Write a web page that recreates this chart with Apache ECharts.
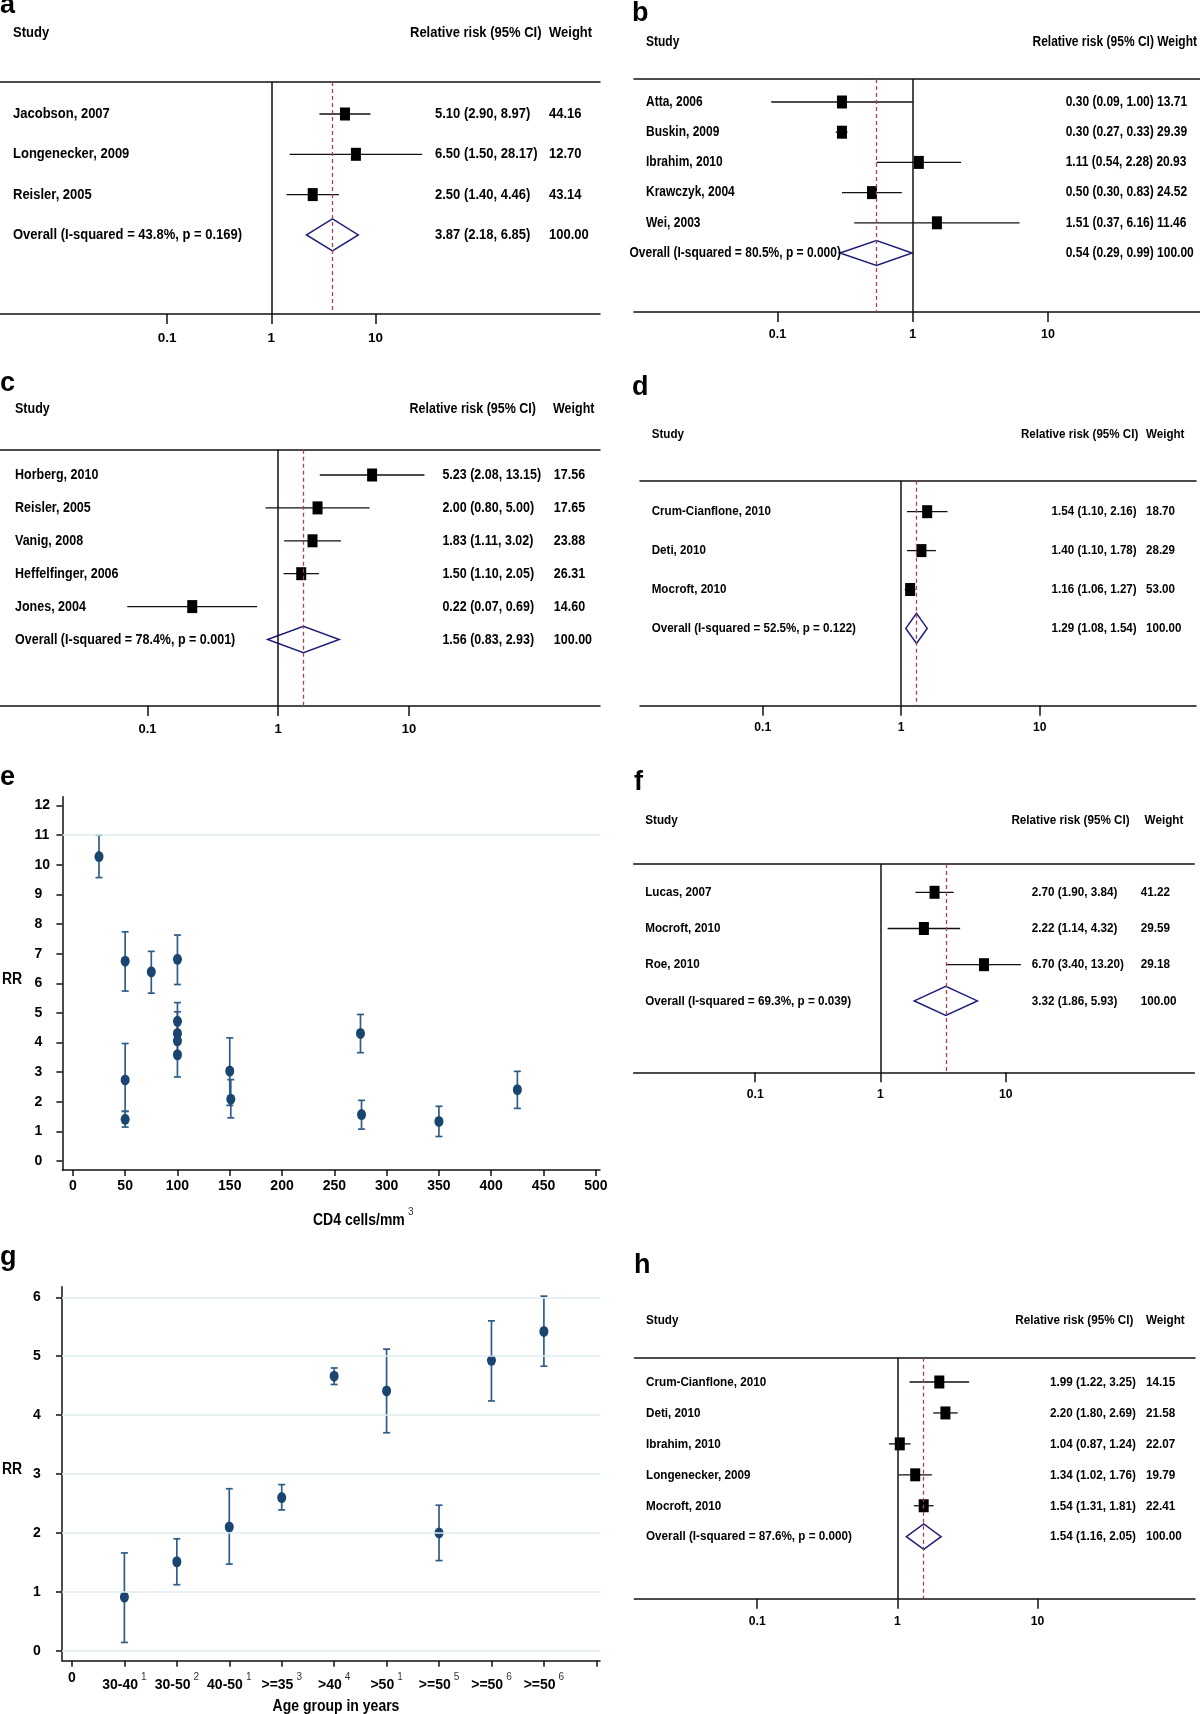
<!DOCTYPE html>
<html>
<head>
<meta charset="utf-8">
<title>Relative risk meta-analysis panels</title>
<script src="https://cdn.jsdelivr.net/npm/echarts@6.0.0/dist/echarts.min.js"></script>
<style>
  html, body { margin: 0; padding: 0; background: #fff; }
  #chart { width: 1200px; height: 1714px; }
</style>
</head>
<body>
<div id="chart"></div>
<script>
// a
const aStudy = ['Jacobson, 2007', 'Longenecker, 2009', 'Reisler, 2005', 'Overall (I-squared = 43.8%, p = 0.169)'];
const aRR = [5.10, 6.50, 2.50, 3.87];
const aLow = [2.90, 1.50, 1.40, 2.18];
const aHigh = [8.97, 28.17, 4.46, 6.85];
const aWeight = [44.16, 12.70, 43.14, 100.00];

// b
const bStudy = ['Atta, 2006', 'Buskin, 2009', 'Ibrahim, 2010', 'Krawczyk, 2004', 'Wei, 2003', 'Overall (I-squared = 80.5%, p = 0.000)'];
const bRR = [0.30, 0.30, 1.11, 0.50, 1.51, 0.54];
const bLow = [0.09, 0.27, 0.54, 0.30, 0.37, 0.29];
const bHigh = [1.00, 0.33, 2.28, 0.83, 6.16, 0.99];
const bWeight = [13.71, 29.39, 20.93, 24.52, 11.46, 100.00];

// c
const cStudy = ['Horberg, 2010', 'Reisler, 2005', 'Vanig, 2008', 'Heffelfinger, 2006', 'Jones, 2004', 'Overall (I-squared = 78.4%, p = 0.001)'];
const cRR = [5.23, 2.00, 1.83, 1.50, 0.22, 1.56];
const cLow = [2.08, 0.80, 1.11, 1.10, 0.07, 0.83];
const cHigh = [13.15, 5.00, 3.02, 2.05, 0.69, 2.93];
const cWeight = [17.56, 17.65, 23.88, 26.31, 14.60, 100.00];

// d
const dStudy = ['Crum-Cianflone, 2010', 'Deti, 2010', 'Mocroft, 2010', 'Overall (I-squared = 52.5%, p = 0.122)'];
const dRR = [1.54, 1.40, 1.16, 1.29];
const dLow = [1.10, 1.10, 1.06, 1.08];
const dHigh = [2.16, 1.78, 1.27, 1.54];
const dWeight = [18.70, 28.29, 53.00, 100.00];

// e
const eCD4 = [25, 50, 75, 100, 100, 100, 100, 100, 50, 50, 150, 151, 275, 276, 350, 425];
const eRR = [10.28, 6.75, 6.39, 6.81, 4.72, 4.31, 4.06, 3.59, 2.74, 1.41, 3.04, 2.09, 4.31, 1.57, 1.34, 2.41];
const eLow = [9.57, 5.74, 5.67, 5.96, 4.31, 4.06, 3.59, 2.84, 1.68, 1.15, 1.88, 1.46, 3.66, 1.08, 0.83, 1.78];
const eHigh = [11.00, 7.74, 7.08, 7.63, 5.35, 5.04, 4.72, 4.31, 3.97, 1.68, 4.16, 2.75, 4.95, 2.05, 1.85, 3.03];
const eXTicks = [0, 50, 100, 150, 200, 250, 300, 350, 400, 450, 500];
const eYTicks = [0, 1, 2, 3, 4, 5, 6, 7, 8, 9, 10, 11, 12];

// f
const fStudy = ['Lucas, 2007', 'Mocroft, 2010', 'Roe, 2010', 'Overall (I-squared = 69.3%, p = 0.039)'];
const fRR = [2.70, 2.22, 6.70, 3.32];
const fLow = [1.90, 1.14, 3.40, 1.86];
const fHigh = [3.84, 4.32, 13.20, 5.93];
const fWeight = [41.22, 29.59, 29.18, 100.00];

// g
const gGroup = ['30-40', '30-50', '40-50', '>=35', '>40', '>50', '>=50', '>=50', '>=50'];
const gRef = ['1', '2', '1', '3', '4', '1', '5', '6', '6'];
const gRR = [0.91, 1.51, 2.10, 2.60, 4.66, 4.41, 2.00, 4.93, 5.42];
const gLow = [0.14, 1.12, 1.47, 2.39, 4.52, 3.70, 1.53, 4.24, 4.83];
const gHigh = [1.66, 1.90, 2.75, 2.82, 4.80, 5.12, 2.47, 5.60, 6.02];
const gYTicks = [0, 1, 2, 3, 4, 5, 6];

// h
const hStudy = ['Crum-Cianflone, 2010', 'Deti, 2010', 'Ibrahim, 2010', 'Longenecker, 2009', 'Mocroft, 2010', 'Overall (I-squared = 87.6%, p = 0.000)'];
const hRR = [1.99, 2.20, 1.04, 1.34, 1.54, 1.54];
const hLow = [1.22, 1.80, 0.87, 1.02, 1.31, 1.16];
const hHigh = [3.25, 2.69, 1.24, 1.76, 1.81, 2.05];
const hWeight = [14.15, 21.58, 22.07, 19.79, 22.41, 100.00];

const forestTicks = [0.1, 1, 10];

const FONT = '"Liberation Sans", Arial, Helvetica, sans-serif';
const DOT = '#1b4571';
const BAR = '#2f5d89';
const GRIDLINE = '#dfecf0';
const STRETCH = 1.17; // the source figure is a little taller than wide

// pixel layout of the forest panels
const forestLayout = {
  a: { left: 0, right: 600, top: 82, bottom: 314, nullX: 271.3, decade: 104.1, row0: 114, rowStep: 40.3, font: 13, studyX: 13, overallX: 13, valX: 435, wX: 549, headY: 33, headRRX: 410, headWX: 549, dia: 16, labelY: 339 },
  b: { left: 634, right: 1200, top: 79, bottom: 312, nullX: 912.7, decade: 135.3, row0: 102, rowStep: 30.2, font: 12, studyX: 646, overallX: 629.5, valX: 1065.7, wX: null, headY: 42, headRRX: 1032.5, headWX: null, dia: 12.5, labelY: 335 },
  c: { left: 0, right: 600, top: 449.7, bottom: 706, nullX: 278.2, decade: 130.7, row0: 475, rowStep: 32.9, font: 12.5, studyX: 15, overallX: 15, valX: 442.4, wX: 553.8, headY: 409, headRRX: 409.5, headWX: 553, dia: 13.3, labelY: 730 },
  d: { left: 640, right: 1196, top: 480.7, bottom: 705.7, nullX: 901.2, decade: 138.5, row0: 511.7, rowStep: 38.9, font: 11.6, studyX: 651.7, overallX: 651.7, valX: 1051.6, wX: 1146, headY: 434, headRRX: 1021, headWX: 1146, dia: 15, labelY: 729 },
  f: { left: 633.7, right: 1194.3, top: 864, bottom: 1072.3, nullX: 880.5, decade: 125.3, row0: 892.3, rowStep: 36.2, font: 11.7, studyX: 645.2, overallX: 645.2, valX: 1031.7, wX: 1140.8, headY: 820, headRRX: 1011.4, headWX: 1144.6, dia: 14.5, labelY: 1096 },
  h: { left: 634.4, right: 1195, top: 1357.7, bottom: 1598.7, nullX: 897.4, decade: 140.2, row0: 1382, rowStep: 30.94, font: 11.7, studyX: 646, overallX: 646, valX: 1050, wX: 1146, headY: 1320, headRRX: 1015.2, headWX: 1146, dia: 12.7, labelY: 1622.3 }
};

const forests = [
  { key: 'a', study: aStudy, rr: aRR, lo: aLow, hi: aHigh, wt: aWeight },
  { key: 'b', study: bStudy, rr: bRR, lo: bLow, hi: bHigh, wt: bWeight },
  { key: 'c', study: cStudy, rr: cRR, lo: cLow, hi: cHigh, wt: cWeight },
  { key: 'd', study: dStudy, rr: dRR, lo: dLow, hi: dHigh, wt: dWeight },
  { key: 'f', study: fStudy, rr: fRR, lo: fLow, hi: fHigh, wt: fWeight },
  { key: 'h', study: hStudy, rr: hRR, lo: hLow, hi: hHigh, wt: hWeight }
];

function txt(text, x, y, size, opts) {
  const o = opts || {};
  return {
    type: 'text', x: x, y: y, silent: true, scaleY: o.scaleY || STRETCH,
    style: {
      text: text, fill: o.color || '#000',
      fontSize: size, fontWeight: o.weight || 'bold', fontFamily: FONT,
      align: o.align || 'left', textAlign: o.align || 'left',
      verticalAlign: 'middle', textVerticalAlign: 'middle'
    }
  };
}

const grids = [], xAxes = [], yAxes = [], series = [], graphics = [];

forests.forEach(function (p, k) {
  const L = forestLayout[p.key];
  grids.push({ left: L.left, top: L.top, width: L.right - L.left, height: L.bottom - L.top, outerBoundsMode: 'none' });
  const xmin = Math.pow(10, (L.left - L.nullX) / L.decade);
  const xmax = Math.pow(10, (L.right - L.nullX) / L.decade);
  const line = { onZero: false, lineStyle: { color: '#111', width: 1.5 } };
  xAxes.push({
    type: 'log', logBase: 10, gridIndex: k, position: 'bottom', min: xmin, max: xmax,
    axisLine: line, splitLine: { show: false },
    axisTick: { customValues: forestTicks, length: 10, inside: false, lineStyle: { color: '#111', width: 1.5 } },
    axisLabel: {
      customValues: forestTicks, margin: L.labelY - L.bottom - L.font * 0.6,
      color: '#000', fontSize: L.font + 0.5, fontWeight: 'bold', fontFamily: FONT,
      formatter: function (v) { return String(+Number(v).toPrecision(3)); }
    }
  });
  xAxes.push({
    type: 'log', logBase: 10, gridIndex: k, position: 'top', min: xmin, max: xmax,
    axisLine: line, axisTick: { show: false }, axisLabel: { show: false }, splitLine: { show: false }
  });
  const ymin = -(L.row0 - L.top) / L.rowStep;
  yAxes.push({ type: 'value', gridIndex: k, inverse: true, min: ymin, max: ymin + (L.bottom - L.top) / L.rowStep, show: false });

  const n = p.rr.length;
  series.push({
    type: 'scatter', xAxisIndex: 2 * k, yAxisIndex: k, data: [], z: 1, silent: true,
    markLine: {
      silent: true, symbol: ['none', 'none'], label: { show: false }, animation: false,
      data: [
        { xAxis: 1, lineStyle: { color: '#111', width: 1.5, type: 'solid' } },
        { xAxis: p.rr[n - 1], lineStyle: { color: '#a24456', width: 1.3, type: [4, 3] } }
      ]
    }
  });
  series.push({
    type: 'custom', xAxisIndex: 2 * k, yAxisIndex: k, clip: false, z: 3, silent: true,
    data: p.rr.map(function (v, i) { return [v, p.lo[i], p.hi[i], i]; }),
    renderItem: function (params, api) {
      const i = params.dataIndex;
      const row = api.value(3);
      const pE = api.coord([api.value(0), row]);
      const pL = api.coord([api.value(1), row]);
      const pH = api.coord([api.value(2), row]);
      const y = pE[1];
      const overall = i === n - 1;
      const kids = [];
      if (overall) {
        kids.push({ type: 'polygon', shape: { points: [[pL[0], y], [pE[0], y - L.dia], [pH[0], y], [pE[0], y + L.dia]] },
          style: { fill: 'none', stroke: '#1f1f7a', lineWidth: 1.5 } });
      } else {
        kids.push({ type: 'line', shape: { x1: pL[0], y1: y, x2: pH[0], y2: y }, style: { stroke: '#111', lineWidth: 1.3 } });
        kids.push({ type: 'rect', shape: { x: pE[0] - 5, y: y - 6.5, width: 10, height: 13 }, style: { fill: '#000' } });
      }
      kids.push(txt(p.study[i], overall ? L.overallX : L.studyX, y, L.font));
      const ci = p.rr[i].toFixed(2) + ' (' + p.lo[i].toFixed(2) + ', ' + p.hi[i].toFixed(2) + ')';
      if (L.wX == null) {
        kids.push(txt(ci + ' ' + p.wt[i].toFixed(2), L.valX, y, L.font));
      } else {
        kids.push(txt(ci, L.valX, y, L.font));
        kids.push(txt(p.wt[i].toFixed(2), L.wX, y, L.font));
      }
      return { type: 'group', children: kids };
    }
  });

  graphics.push(txt('Study', L.studyX, L.headY, L.font));
  if (L.headWX == null) {
    graphics.push(txt('Relative risk (95% CI) Weight', L.headRRX, L.headY, L.font));
  } else {
    graphics.push(txt('Relative risk (95% CI)', L.headRRX, L.headY, L.font));
    graphics.push(txt('Weight', L.headWX, L.headY, L.font));
  }
});

// error bar renderer shared by panels e and g
function errorBars(xIdx, yIdx, data) {
  return {
    type: 'custom', xAxisIndex: xIdx, yAxisIndex: yIdx, clip: false, z: 3, silent: true, data: data,
    renderItem: function (params, api) {
      const x = api.value(0);
      const pLo = api.coord([x, api.value(1)]);
      const pHi = api.coord([x, api.value(2)]);
      const st = { stroke: BAR, lineWidth: 1.7 };
      return { type: 'group', children: [
        { type: 'line', shape: { x1: pLo[0], y1: pLo[1], x2: pHi[0], y2: pHi[1] }, style: st },
        { type: 'line', shape: { x1: pLo[0] - 3.5, y1: pLo[1], x2: pLo[0] + 3.5, y2: pLo[1] }, style: st },
        { type: 'line', shape: { x1: pHi[0] - 3.5, y1: pHi[1], x2: pHi[0] + 3.5, y2: pHi[1] }, style: st }
      ] };
    }
  };
}

const axLine = { onZero: false, lineStyle: { color: '#111', width: 1.5 } };
const axTick = { length: 6, inside: false, lineStyle: { color: '#111', width: 1.5 } };
const axLab = { color: '#000', fontSize: 14, fontWeight: 'bold', fontFamily: FONT };

// panel e
grids.push({ left: 62.4, top: 796.7, width: 600 - 62.4, height: 1170 - 796.7, outerBoundsMode: 'none' });
xAxes.push({
  type: 'value', gridIndex: 6, min: -10, max: 504, axisLine: axLine, splitLine: { show: false },
  axisTick: Object.assign({ customValues: eXTicks }, axTick),
  axisLabel: Object.assign({ customValues: eXTicks, margin: 9 }, axLab)
});
yAxes.push({
  type: 'value', gridIndex: 6, min: -0.3, max: 12.3, axisLine: Object.assign({ show: true }, axLine), splitLine: { show: false },
  axisTick: Object.assign({ show: true, customValues: eYTicks }, axTick),
  axisLabel: Object.assign({ customValues: eYTicks, margin: 28, align: 'left' }, axLab)
});
series.push({
  type: 'scatter', xAxisIndex: 12, yAxisIndex: 6, data: [], z: 1, silent: true,
  markLine: { silent: true, symbol: ['none', 'none'], label: { show: false }, animation: false,
    lineStyle: { color: GRIDLINE, width: 1.5, type: 'solid' }, data: [{ yAxis: 11 }] }
});
series.push(errorBars(12, 6, eCD4.map(function (x, i) { return [x, eLow[i], eHigh[i]]; })));
series.push({
  type: 'scatter', xAxisIndex: 12, yAxisIndex: 6, z: 4, silent: true,
  symbol: 'circle', symbolSize: [9, 11], itemStyle: { color: DOT, opacity: 1 },
  data: eCD4.map(function (x, i) { return [x, eRR[i]]; })
});

// panel g
const gXTicks = [0].concat(gGroup.map(function (_, i) { return i + 1; })).concat([gGroup.length + 1]);
const gLabVals = gXTicks.slice(0, gXTicks.length - 1);
grids.push({ left: 62, top: 1286.7, width: 600 - 62, height: 1660.7 - 1286.7, outerBoundsMode: 'none' });
xAxes.push({
  type: 'value', gridIndex: 7, min: -0.19, max: 10.07, axisLine: axLine, splitLine: { show: false },
  axisTick: Object.assign({ customValues: gXTicks }, axTick),
  axisLabel: Object.assign({
    customValues: gLabVals, margin: 9,
    formatter: function (v) {
      const i = Math.round(v);
      if (i === 0) return '{z|0}';
      return '{b|' + gGroup[i - 1] + '}{s|' + gRef[i - 1] + '}';
    },
    rich: {
      z: { fontSize: 14, fontWeight: 'bold', fontFamily: FONT, color: '#000', lineHeight: 16 },
      b: { fontSize: 14, fontWeight: 'bold', fontFamily: FONT, color: '#000', lineHeight: 22, verticalAlign: 'bottom' },
      s: { fontSize: 10, fontWeight: 'normal', fontFamily: FONT, color: '#333', lineHeight: 22, verticalAlign: 'top', padding: [3, 0, 0, 3] }
    }
  }, axLab)
});
yAxes.push({
  type: 'value', gridIndex: 7, min: -0.17, max: 6.18, axisLine: Object.assign({ show: true }, axLine), splitLine: { show: false },
  axisTick: Object.assign({ show: true, customValues: gYTicks }, axTick),
  axisLabel: Object.assign({ customValues: gYTicks, margin: 29, align: 'left' }, axLab)
});
series.push({
  type: 'scatter', xAxisIndex: 13, yAxisIndex: 7, data: [], z: 1, silent: true,
  markLine: { silent: true, symbol: ['none', 'none'], label: { show: false }, animation: false,
    lineStyle: { color: GRIDLINE, width: 1.5, type: 'solid' },
    data: gYTicks.map(function (v) { return { yAxis: v }; }) }
});
series.push(errorBars(13, 7, gRR.map(function (_, i) { return [i + 1, gLow[i], gHigh[i]]; })));
series.push({
  type: 'scatter', xAxisIndex: 13, yAxisIndex: 7, z: 4, silent: true,
  symbol: 'circle', symbolSize: [9, 11], itemStyle: { color: DOT, opacity: 1 },
  data: gRR.map(function (v, i) { return [i + 1, v]; })
});

// axis titles and panel letters
graphics.push(txt('RR', 2, 979, 14));
graphics.push(txt('CD4 cells/mm', 313, 1220, 14));
graphics.push(txt('3', 408, 1212, 10, { weight: 'normal', color: '#333' }));
graphics.push(txt('RR', 2, 1469, 14));
graphics.push(txt('Age group in years', 336, 1706, 14, { align: 'center' }));

[['a', 0, 6], ['b', 632, 14], ['c', 0, 384], ['d', 632, 388],
 ['e', 0, 778], ['f', 634, 783], ['g', 0, 1258], ['h', 634, 1266]].forEach(function (l) {
  graphics.push(txt(l[0], l[1], l[2], 27, { scaleY: 1 }));
});

const chart = echarts.init(document.getElementById('chart'), null, { renderer: 'canvas' });
chart.setOption({
  animation: false,
  backgroundColor: '#fff',
  grid: grids,
  xAxis: xAxes,
  yAxis: yAxes,
  series: series,
  graphic: { elements: graphics }
});
</script>
</body>
</html>
